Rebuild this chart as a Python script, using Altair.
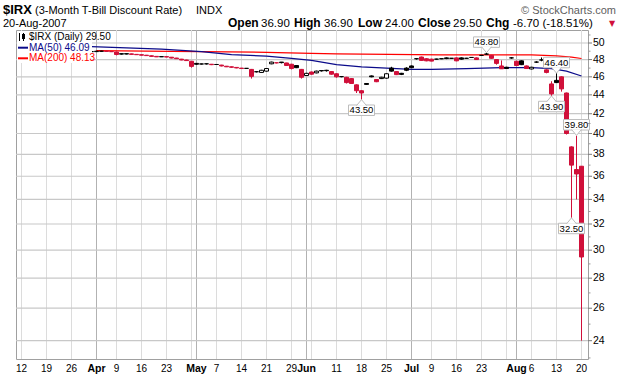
import altair as alt
import pandas as pd

# ------------------------------------------------------------------ data
# x = trading-day index, 0 = 12-Mar-2007 (markets closed 6-Apr, 28-May, 4-Jul)
candle_idx = list(range(14, 113))
opens = [48.95, 48.95, 49.00, 49.00, 48.95, 48.90, 48.70, 48.70, 48.68, 48.62,
         48.58, 48.52, 48.45, 48.38, 48.33, 48.35, 48.28, 48.18, 48.05, 47.95,
         47.80, 47.55, 47.48, 47.50, 47.45, 47.42, 47.35, 47.22, 47.15, 47.08,
         47.00, 46.97, 46.85, 46.58, 46.50, 46.65, 47.50, 47.62, 47.70, 47.60,
         47.45, 47.30, 46.85, 46.15, 46.55, 46.45, 46.72, 46.75, 46.60, 46.35,
         46.02, 45.95, 45.80, 45.10, 44.45, 45.25, 46.10, 45.70, 45.80, 45.85,
         47.00, 46.60, 46.40, 47.00, 47.25, 48.10, 48.30, 48.10, 48.05, 48.05,
         48.10, 48.20, 48.15, 48.20, 48.20, 48.15, 48.25, 48.20, 48.50, 48.65,
         48.50, 48.00, 47.25, 47.10, 48.20, 47.80, 47.85, 47.25, 46.90, 47.70,
         47.95, 46.80, 45.20, 45.60, 46.00, 44.20, 38.70, 36.60, 36.90]
highs = [49.00, 49.05, 49.05, 49.05, 49.00, 48.95, 48.72, 48.72, 48.70, 48.65,
         48.60, 48.55, 48.48, 48.40, 48.38, 48.37, 48.30, 48.20, 48.08, 47.98,
         47.82, 47.58, 47.52, 47.55, 47.48, 47.45, 47.38, 47.25, 47.18, 47.10,
         47.02, 47.00, 46.90, 46.65, 46.80, 47.00, 47.75, 47.65, 47.72, 47.62,
         47.50, 47.35, 46.90, 46.45, 46.60, 46.70, 46.75, 46.80, 46.65, 46.40,
         46.05, 46.00, 45.85, 45.15, 44.50, 45.30, 46.15, 45.75, 46.00, 46.40,
         47.15, 46.65, 46.45, 47.10, 47.30, 48.15, 48.35, 48.15, 48.10, 48.10,
         48.12, 48.25, 48.18, 48.25, 48.25, 48.20, 48.30, 48.25, 48.55, 48.80,
         48.55, 48.05, 47.90, 47.15, 48.30, 47.85, 47.90, 47.30, 47.15, 47.80,
         48.25, 46.85, 45.50, 46.40, 46.05, 44.25, 38.75, 39.80, 36.90]
lows = [48.90, 48.90, 48.95, 48.95, 48.90, 48.50, 48.60, 48.62, 48.60, 48.55,
        48.50, 48.45, 48.35, 48.30, 48.30, 48.28, 48.15, 48.08, 47.92, 47.85,
        47.05, 47.40, 47.42, 47.42, 47.35, 47.38, 47.20, 47.12, 47.05, 46.98,
        46.92, 46.90, 45.80, 46.50, 46.45, 46.60, 47.45, 47.55, 47.55, 47.25,
        46.85, 47.00, 45.80, 46.10, 46.25, 46.40, 46.60, 46.60, 46.25, 45.90,
        45.95, 45.25, 45.20, 44.20, 43.50, 45.10, 45.95, 45.40, 45.75, 45.80,
        46.60, 46.20, 46.20, 46.65, 47.00, 48.00, 47.85, 47.80, 47.80, 48.00,
        48.05, 48.05, 48.08, 47.80, 48.00, 48.10, 48.20, 47.95, 48.45, 48.60,
        48.10, 47.40, 46.90, 46.90, 48.10, 47.25, 47.35, 46.90, 46.85, 47.60,
        47.80, 46.40, 43.90, 45.30, 44.35, 39.90, 32.50, 34.00, 24.00]
closes = [48.95, 49.00, 49.00, 48.98, 48.95, 48.60, 48.65, 48.66, 48.62, 48.58,
          48.52, 48.47, 48.38, 48.32, 48.35, 48.30, 48.18, 48.10, 47.95, 47.88,
          47.20, 47.45, 47.48, 47.50, 47.40, 47.42, 47.25, 47.15, 47.10, 47.02,
          46.95, 46.97, 46.05, 46.58, 46.75, 46.95, 47.70, 47.62, 47.64, 47.30,
          46.95, 47.05, 45.95, 46.40, 46.30, 46.65, 46.68, 46.70, 46.30, 46.00,
          46.02, 45.35, 45.25, 44.45, 44.20, 45.15, 46.00, 45.45, 45.95, 46.35,
          46.65, 46.25, 46.28, 46.75, 47.05, 48.10, 47.90, 47.85, 47.82, 48.05,
          48.10, 48.12, 48.15, 47.85, 48.05, 48.15, 48.25, 48.00, 48.50, 48.65,
          48.15, 47.55, 46.92, 46.95, 48.20, 47.30, 47.40, 46.95, 47.10, 47.70,
          47.95, 46.50, 44.10, 45.35, 44.65, 40.00, 37.00, 36.20, 29.50]

ma50_idx = [14, 28, 36, 42, 49, 54, 58, 63, 68, 73, 78, 82, 89, 96, 102, 106, 109, 112]
ma50_val = [49.55, 49.25, 48.95, 48.60, 48.40, 48.15, 47.90, 47.40, 47.15, 47.00,
            46.85, 46.85, 46.95, 47.05, 47.05, 46.95, 46.65, 46.09]
ma200_idx = [15, 30, 49, 58, 63, 84, 102, 107, 110, 112]
ma200_val = [49.08, 48.98, 48.87, 48.75, 48.68, 48.57, 48.55, 48.45, 48.30, 48.13]

hi_idx = [93, 107, 111]
hi_val = [48.80, 46.40, 39.80]
lo_idx = [68, 106, 110]
lo_val = [43.50, 43.90, 32.50]

week_idx = [0, 5, 10, 15, 19, 24, 29, 34, 39, 44, 49, 54, 58, 63, 68, 73, 78, 82,
            87, 92, 97, 102, 107, 112]
month_idx = [15, 35, 57, 78, 99]
y_grid = [24, 26, 28, 30, 32, 34, 36, 38, 40, 42, 44, 46, 48, 50]
y_minor = [23, 25, 27, 29, 31, 33, 35, 37, 39, 41, 43, 45, 47, 49, 51]

xlab_idx = [0, 5, 10, 15, 19, 24, 29, 35, 39, 44, 49, 54, 57, 63, 68, 73, 78, 82,
            87, 92, 99, 102, 107, 112]
xlab_txt = ["12", "19", "26", "Apr", "9", "16", "23", "May", "7", "14", "21", "29",
            "Jun", "11", "18", "25", "Jul", "9", "16", "23", "Aug", "6", "13", "20"]
month_names = ["Apr", "May", "Jun", "Jul", "Aug"]

# ------------------------------------------------------------------ scales
W, H = 572, 329
FONT = "Liberation Sans"
X_DOM = [-1.1, 113.3]
xs = alt.Scale(domain=X_DOM, nice=False, zero=False)
ys = alt.Scale(type="log", domain=[22.94, 51.63], nice=False, zero=False)
PX = (X_DOM[1] - X_DOM[0]) / W          # data units per pixel along x

# ------------------------------------------------------------------ frames
RED = "#D0103A"
df = pd.DataFrame({"idx": candle_idx, "open": opens, "high": highs,
                   "low": lows, "close": closes})
prev = df["close"].shift(1)
df["col"] = ["#000000" if (pd.isna(p) or c >= p) else RED
             for c, p in zip(df["close"], prev)]
df["fillc"] = ["#FFFFFF" if c > o else col
               for c, o, col in zip(df["close"], df["open"], df["col"])]

ma50 = pd.DataFrame({"idx": ma50_idx, "v": ma50_val})
ma200 = pd.DataFrame({"idx": ma200_idx, "v": ma200_val})
hi = pd.DataFrame({"idx": hi_idx, "v": hi_val, "t": [f"{v:.2f}" for v in hi_val]})
lo = pd.DataFrame({"idx": lo_idx, "v": lo_val, "t": [f"{v:.2f}" for v in lo_val]})
xl = pd.DataFrame({"idx": xlab_idx, "t": xlab_txt,
                   "b": [t in month_names for t in xlab_txt]})
gy = pd.DataFrame({"g": y_grid, "t": [str(v) for v in y_grid],
                   "xa": X_DOM[0], "xb": X_DOM[1], "xt": X_DOM[1] + 4 * PX})
gm = pd.DataFrame({"m": y_minor, "xb": X_DOM[1], "xt": X_DOM[1] + 2.5 * PX})
one = pd.DataFrame({"k": [0]})


def X(f="idx"):
    return alt.X(f"{f}:Q", scale=xs, axis=None)


def Y(f):
    return alt.Y(f"{f}:Q", scale=ys, axis=None)


# ------------------------------------------------------------------ grid + axes
week = alt.Chart(pd.DataFrame({"idx": week_idx})).mark_rule(
    color="#DCDCDC", strokeWidth=1).encode(
    x=alt.X("idx:Q", scale=xs,
            axis=alt.Axis(values=list(range(-1, 114)), labels=False, ticks=True,
                          tickSize=2, tickColor="#9A9A9A", domain=False,
                          grid=False, title=None)))
month = alt.Chart(pd.DataFrame({"idx": month_idx})).mark_rule(
    color="#B2B2B2", strokeWidth=1).encode(x=X())
# horizontal grid lines: a y-axis grid (no labels) plus 1-px rectangles
hgrid = alt.Chart(gy).mark_rect(fill="#C8C8C8", strokeWidth=0,
                                yOffset=-0.6, y2Offset=0.6).encode(
    x=X("xa"), x2="xb:Q",
    y=alt.Y("g:Q", scale=ys,
            axis=alt.Axis(values=y_grid, grid=True, gridColor="#D6D6D6",
                          gridWidth=1, labels=False, ticks=False, domain=False,
                          title=None)),
    y2="g:Q")

ytick_major = alt.Chart(gy).mark_rect(fill="#7A7A7A", strokeWidth=0,
                                      yOffset=-0.5, y2Offset=0.5).encode(
    x=X("xb"), x2="xt:Q", y=Y("g"), y2="g:Q")
ytick_minor = alt.Chart(gm).mark_rect(fill="#9A9A9A", strokeWidth=0,
                                      yOffset=-0.5, y2Offset=0.5).encode(
    x=X("xb"), x2="xt:Q", y=Y("m"), y2="m:Q")
ylabels = alt.Chart(gy).mark_text(align="left", baseline="middle", font=FONT,
                                  fontSize=10.5, color="#000000").encode(
    y=Y("g"), x=alt.value(W + 5), text="t:N")

# ------------------------------------------------------------------ series
l200 = alt.Chart(ma200).mark_line(color="#FF0000", strokeWidth=1.2).encode(
    x=X(), y=Y("v"))
l50 = alt.Chart(ma50).mark_line(color="#0B0B8A", strokeWidth=1.2).encode(
    x=X(), y=Y("v"))

wick = alt.Chart(df).mark_rule(strokeWidth=1).encode(
    x=X(), y=Y("low"), y2="high:Q",
    color=alt.Color("col:N", scale=None))
body = alt.Chart(df).mark_rect(xOffset=-2, x2Offset=2, strokeWidth=1).encode(
    x=X(), x2="idx:Q", y=Y("open"), y2="close:Q",
    fill=alt.Fill("fillc:N", scale=None),
    stroke=alt.Stroke("col:N", scale=None))

# ------------------------------------------------------------------ price call-outs
BOX = "#BDBDBD"
hi_box = alt.Chart(hi).mark_rect(xOffset=-13, x2Offset=13, yOffset=-16, y2Offset=-5.5,
                                 fill="white", stroke=BOX, strokeWidth=1).encode(
    x=X(), x2="idx:Q", y=Y("v"), y2="v:Q")
hi_ptr = alt.Chart(hi).mark_point(shape="M-1,-0.65 L0,0.55 L1,-0.65", size=100,
                                  filled=True, fill="white", stroke=BOX,
                                  strokeWidth=1, opacity=1, yOffset=-2.9).encode(
    x=X(), y=Y("v"))
hi_txt = alt.Chart(hi).mark_text(dy=-10.8, baseline="middle", align="center",
                                 font=FONT, fontSize=9.5, color="#000000").encode(
    x=X(), y=Y("v"), text="t:N")
lo_box = alt.Chart(lo).mark_rect(xOffset=-13, x2Offset=13, yOffset=5.5, y2Offset=16,
                                 fill="white", stroke=BOX, strokeWidth=1).encode(
    x=X(), x2="idx:Q", y=Y("v"), y2="v:Q")
lo_ptr = alt.Chart(lo).mark_point(shape="M-1,0.65 L0,-0.55 L1,0.65", size=100,
                                  filled=True, fill="white", stroke=BOX,
                                  strokeWidth=1, opacity=1, yOffset=2.9).encode(
    x=X(), y=Y("v"))
lo_txt = alt.Chart(lo).mark_text(dy=10.8, baseline="middle", align="center",
                                 font=FONT, fontSize=9.5, color="#000000").encode(
    x=X(), y=Y("v"), text="t:N")

# ------------------------------------------------------------------ x labels
xl_n = alt.Chart(xl[~xl["b"]]).mark_text(baseline="middle", align="center",
                                         font=FONT, fontSize=10, color="#000000").encode(
    x=X(), y=alt.value(H + 10), text="t:N")
xl_b = alt.Chart(xl[xl["b"]]).mark_text(baseline="middle", align="center", font=FONT,
                                        fontSize=10.5, fontWeight="bold",
                                        color="#000000").encode(
    x=X(), y=alt.value(H + 10), text="t:N")


# ------------------------------------------------------------------ text helpers
def txt(s, x, y, size=11, bold=False, color="#000000", align="left",
        baseline="alphabetic", font=FONT):
    return alt.Chart(one).mark_text(
        text=s, align=align, baseline=baseline, fontSize=size,
        fontWeight="bold" if bold else "normal", color=color, font=font).encode(
        x=alt.value(x - 16), y=alt.value(y - 30))


header = [
    txt("$IRX", 3, 14, 13, True),
    txt("(3-Month T-Bill Discount Rate)", 35, 14, 11),
    txt("INDX", 196, 14, 11),
    txt("\u00a9 StockCharts.com", 616, 14, 11, color="#606060", align="right"),
    txt("20-Aug-2007", 3, 27, 11),
]
seg = [("Open", 228, True), ("36.90", 261, False), ("High", 294, True),
       ("36.90", 324, False), ("Low", 358, True), ("24.00", 385, False),
       ("Close", 418, True), ("29.50", 453, False), ("Chg", 486, True),
       ("-6.70 (-18.51%)", 513, False)]
for s, x, b in seg:
    header.append(txt(s, x, 27, 12 if b else 11.5, b))
header.append(txt("\u25bc", 612, 24, 8, color=RED, align="center",
                  baseline="middle", font="DejaVu Sans"))

# legend (white panel in the top-left corner of the plot)
leg_bg = alt.Chart(one).mark_rect(color="white").encode(
    x=alt.value(1), x2=alt.value(76), y=alt.value(1), y2=alt.value(33))
leg = [
    leg_bg,
    alt.Chart(one).mark_rule(color="#000000", strokeWidth=1).encode(
        x=alt.value(3.5), y=alt.value(3), y2=alt.value(11)),
    alt.Chart(one).mark_rect(color="#000000").encode(
        x=alt.value(6), x2=alt.value(9), y=alt.value(4), y2=alt.value(9)),
    alt.Chart(one).mark_rule(color="#000000", strokeWidth=1).encode(
        x=alt.value(7.5), y=alt.value(3), y2=alt.value(11)),
    txt("$IRX (Daily) 29.50", 29, 37, 10, baseline="middle"),
    alt.Chart(one).mark_rule(color="#0B0B8A", strokeWidth=2).encode(
        x=alt.value(2), x2=alt.value(12), y=alt.value(17.7)),
    txt("MA(50) 46.09", 29, 47.7, 10, color="#0B0B8A", baseline="middle"),
    alt.Chart(one).mark_rule(color="#FF0000", strokeWidth=2).encode(
        x=alt.value(2), x2=alt.value(12), y=alt.value(28.3)),
    txt("MA(200) 48.13", 29, 58.3, 10, color="#FF0000", baseline="middle"),
]

chart = alt.layer(
    week, month, hgrid, l200, l50, wick, body,
    hi_box, hi_ptr, hi_txt, lo_box, lo_ptr, lo_txt,
    ytick_major, ytick_minor, ylabels,
    xl_n, xl_b, *leg, *header
).properties(
    width=W, height=H,
    autosize=alt.AutoSizeParams(type="none"),
    padding={"left": 16, "top": 30, "right": 32, "bottom": 17},
    background="white",
).configure_view(stroke="#A0A0A0", strokeWidth=1)

chart.save("out.html", embed_options={"renderer": "svg", "actions": False})
